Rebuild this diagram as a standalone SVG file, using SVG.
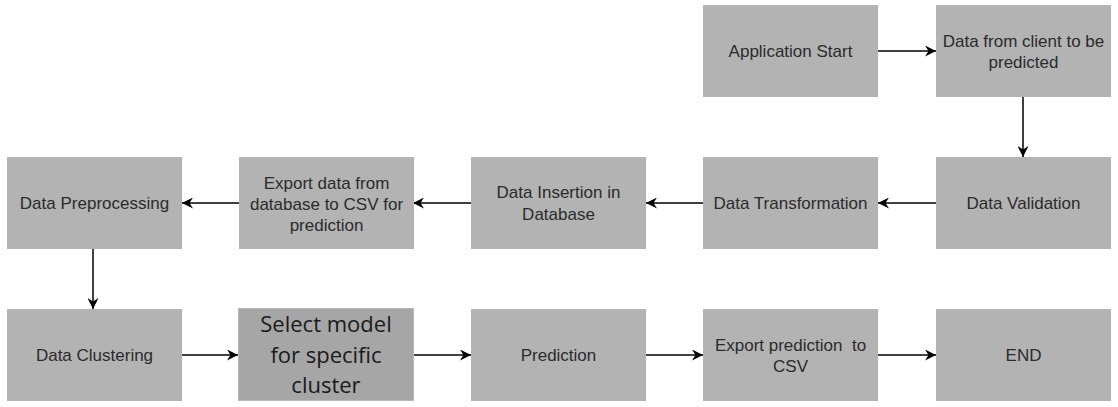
<svg xmlns="http://www.w3.org/2000/svg" width="1118" height="407" viewBox="0 0 1118 407">
<style>
.box{fill:#b3b3b3;}
.box2{fill:#a6a6a6;stroke:#b8b8b8;stroke-width:1;}
.t{font-family:"Liberation Sans",Arial,sans-serif;font-size:17px;fill:#2b2b2b;text-anchor:middle;white-space:pre;}
.t2{font-family:"Open Sans","Liberation Sans",sans-serif;font-size:22px;fill:#1a1a1a;text-anchor:middle;}
.c{stroke:#000;stroke-width:1.5;fill:none;marker-end:url(#ah);}
</style>
<defs>
<marker id="ah" viewBox="0 0 11 11" refX="11" refY="5.5" markerWidth="11" markerHeight="11" markerUnits="userSpaceOnUse" orient="auto">
<path d="M0,0 L11,5.5 L0,11 L3.5,5.5 z" fill="#000"/>
</marker>
</defs>
<rect width="1118" height="407" fill="#fff"/>
<g id="connectors">
<line class="c" x1="878" y1="51" x2="936" y2="51"/>
<line class="c" x1="1023" y1="97" x2="1023" y2="157"/>
<line class="c" x1="936" y1="203" x2="878" y2="203"/>
<line class="c" x1="703" y1="203" x2="646" y2="203"/>
<line class="c" x1="471" y1="203" x2="413" y2="203"/>
<line class="c" x1="239" y1="203" x2="182" y2="203"/>
<line class="c" x1="93" y1="249" x2="93" y2="309"/>
<line class="c" x1="182" y1="355" x2="238" y2="355"/>
<line class="c" x1="413" y1="355" x2="471" y2="355"/>
<line class="c" x1="646" y1="355" x2="703" y2="355"/>
<line class="c" x1="878" y1="355" x2="936" y2="355"/>
</g>
<g id="app-start"><rect class="box" x="703" y="5" width="175" height="92"/><text class="t" x="790.5" y="57">Application Start</text></g>
<g id="data-client"><rect class="box" x="936" y="5" width="175" height="92"/><text class="t" x="1023.5" y="47">Data from client to be</text><text class="t" x="1023.5" y="68">predicted</text></g>
<g id="data-validation"><rect class="box" x="936" y="157" width="175" height="92"/><text class="t" x="1023.5" y="209">Data Validation</text></g>
<g id="data-transformation"><rect class="box" x="703" y="157" width="175" height="92"/><text class="t" x="790.5" y="209">Data Transformation</text></g>
<g id="data-insertion"><rect class="box" x="471" y="157" width="175" height="92"/><text class="t" x="558.5" y="198">Data Insertion in</text><text class="t" x="558.5" y="220">Database</text></g>
<g id="export-data"><rect class="box" x="239" y="157" width="175" height="92"/><text class="t" x="326.5" y="189">Export data from</text><text class="t" x="326.5" y="210">database to CSV for</text><text class="t" x="326.5" y="231">prediction</text></g>
<g id="data-preprocessing"><rect class="box" x="7" y="157" width="175" height="92"/><text class="t" x="94.5" y="209">Data Preprocessing</text></g>
<g id="data-clustering"><rect class="box" x="7" y="309" width="175" height="92"/><text class="t" x="94.5" y="361">Data Clustering</text></g>
<g id="select-model"><rect class="box2" x="238.5" y="308.5" width="175" height="92"/><text class="t2" x="326" y="332">Select model</text><text class="t2" x="326" y="363">for specific</text><text class="t2" x="326" y="393">cluster</text></g>
<g id="prediction"><rect class="box" x="471" y="309" width="175" height="92"/><text class="t" x="558.5" y="361">Prediction</text></g>
<g id="export-prediction"><rect class="box" x="703" y="309" width="175" height="92"/><text class="t" x="790.5" y="351">Export prediction  to</text><text class="t" x="790.5" y="372">CSV</text></g>
<g id="end"><rect class="box" x="936" y="309" width="175" height="92"/><text class="t" x="1023.5" y="361">END</text></g>
</svg>
